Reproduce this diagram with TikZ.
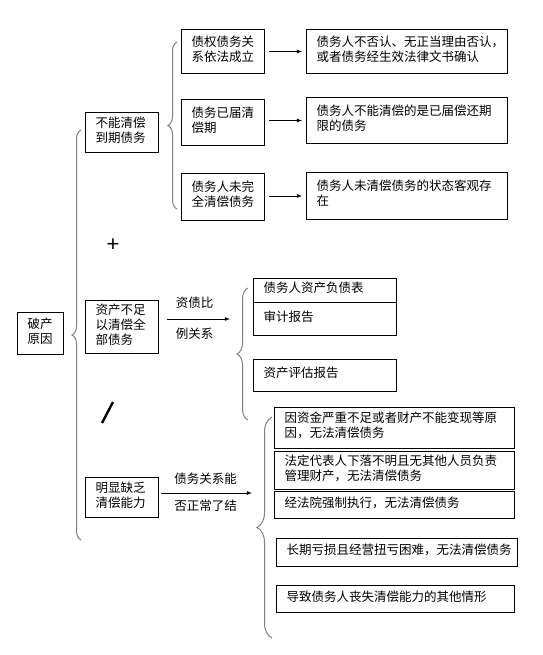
\documentclass[tikz,border=0pt]{standalone}
\usepackage{fontspec}
\newfontfamily\cjk{Noto Sans CJK SC}
\newfontfamily\symb{Liberation Sans}
\usetikzlibrary{arrows}
\usetikzlibrary{positioning, decorations.pathreplacing}
\hfuzz=30pt

\begin{document}
\begin{tikzpicture}[x=1pt, y=-1pt]
\tikzset{
  box/.style={draw, line width=1pt, anchor=north west, align=left, inner sep=0pt,
    font=\cjk\fontsize{12.5}{15}\selectfont, execute at end node={\par\kern5pt}},
  lbl/.style={font=\cjk\fontsize{12.5}{15}\selectfont, inner sep=0pt},
  link/.style={->, >=latex, line width=0.8pt},
  curly/.style={draw=gray, line width=1pt, decorate, decoration={brace, amplitude=#1}},
  curly/.default={9pt}
}
\useasboundingbox (0,0) rectangle (542,655);

% left column
\node[box, minimum width=46, minimum height=42, text width=26pt] (cause) at (17,312) {破产\\原因};
\node[box, minimum width=73, minimum height=40, text width=53pt] (unpaid) at (85,112) {不能清偿\\到期债务};
\node[box, minimum width=73, minimum height=53, text width=53pt] (insolv) at (85,300) {资产不足\\以清偿全\\部债务};
\node[box, minimum width=73, minimum height=40, text width=53pt] (inability) at (85,477) {明显缺乏\\清偿能力};

% first group
\node[box, minimum width=83, minimum height=44, text width=63pt] (established) at (181,29) {债权债务关\\系依法成立};
\node[box, minimum width=83, minimum height=46, text width=63pt] (due) at (181,99) {债务已届清\\偿期};
\node[box, minimum width=83, minimum height=47, text width=63pt] (unsettled) at (181,173) {债务人未完\\全清偿债务};

\node[box, minimum width=201, minimum height=44, text width=181pt] (confirmed) at (306,29) {债务人不否认、无正当理由否认，\\或者债务经生效法律文书确认};
\node[box, minimum width=201, minimum height=46, text width=181pt] (expired) at (306,97) {债务人不能清偿的是已届偿还期\\限的债务};
\node[box, minimum width=201, minimum height=47, text width=181pt] (objective) at (306,172) {债务人未清偿债务的状态客观存\\在};

% second group
\node[box, minimum width=143, minimum height=24, text width=123pt, execute at end node={}] (balance) at (253,278) {债务人资产负债表};
\node[box, minimum width=143, minimum height=33, text width=123pt] (audit) at (253,302) {审计报告};
\node[box, minimum width=143, minimum height=32, text width=123pt] (appraisal) at (253,359) {资产评估报告};

% third group
\node[box, minimum width=240, minimum height=41, text width=220pt] (funds) at (274,407) {因资金严重不足或者财产不能变现等原\\因，无法清偿债务};
\node[box, minimum width=240, minimum height=38, text width=220pt] (absent) at (274,451) {法定代表人下落不明且无其他人员负责\\管理财产，无法清偿债务};
\node[box, minimum width=240, minimum height=27, text width=220pt] (enforce) at (274,491) {经法院强制执行，无法清偿债务};
\node[box, minimum width=241, minimum height=28, text width=221pt] (losses) at (276,538) {长期亏损且经营扭亏困难，无法清偿债务};
\node[box, minimum width=238, minimum height=27, text width=218pt] (other) at (276,585) {导致债务人丧失清偿能力的其他情形};

% braces
\coordinate (B0s) at (81,540);
\coordinate (B0e) at (81,130);
\coordinate (B1s) at (177,209);
\coordinate (B1e) at (177,42);
\coordinate (B2s) at (248,420);
\coordinate (B2e) at (248,288);
\coordinate (B3s) at (272,638);
\coordinate (B3e) at (272,417);

\draw[curly] (B0s) -- (B0e);
\draw[curly] (B1s) -- (B1e);
\draw[curly=11pt] (B2s) -- (B2e);
\draw[curly=15pt] (B3s) -- (B3e);

% arrows
\draw[link, shorten <=4pt, shorten >=4pt] (established.east) -- (confirmed.west);
\draw[link, shorten <=4pt, shorten >=4pt] (expired.west -| due.east) -- (expired.west);
\draw[link, shorten <=4pt, shorten >=4pt] (objective.west -| unsettled.east) -- (objective.west);

\coordinate (ratio) at (230,319);
\coordinate (settle) at (252,493);
\draw[link, shorten <=8pt] (insolv.east |- ratio) -- node[lbl, above=10pt] {资债比} node[lbl, below=9pt] {例关系} (ratio);
\draw[link, shorten <=2pt] (inability.east |- settle) -- node[lbl, above=8pt] {债务关系能} node[lbl, below=7pt] {否正常了结} (settle);

% signs between the groups
\node[font=\symb\fontsize{22}{22}\selectfont, inner sep=0pt] (plus) at (113,245) {+};
\coordinate (slashtop) at (113,402);
\coordinate (slashbot) at (102,423);
\draw[line width=2.4pt] (slashtop) -- (slashbot);
\end{tikzpicture}
\end{document}
